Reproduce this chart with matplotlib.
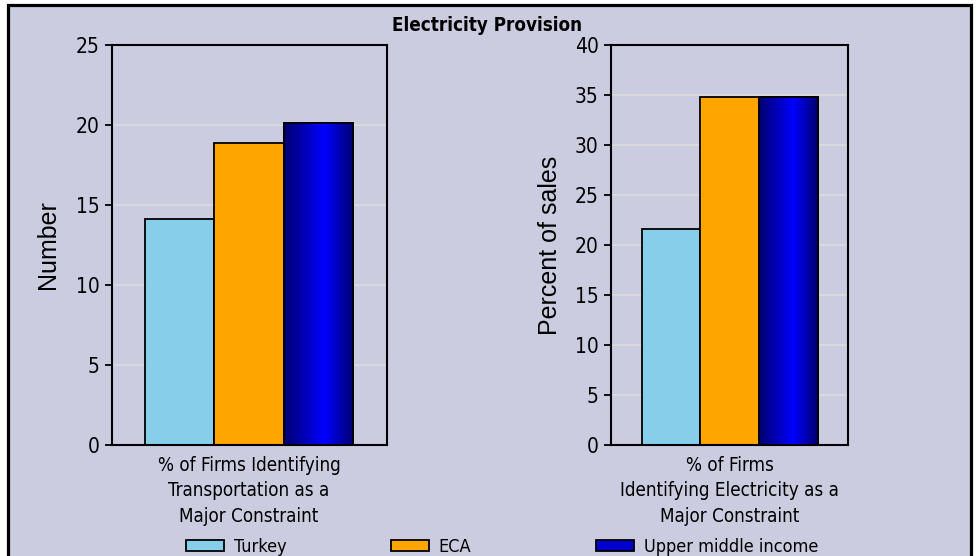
import numpy as np
import matplotlib
matplotlib.use('Agg')
from matplotlib import pyplot as plt
from matplotlib.patches import Rectangle
from matplotlib.colors import LinearSegmentedColormap

# data
series = ['Turkey', 'ECA', 'Upper middle income']
colors = ['#87CEEB', '#FFA500', '#0000CC']
transport_vals = [14.1, 18.9, 20.15]
electricity_vals = [21.6, 34.8, 34.8]
left_cat = '% of Firms Identifying\nTransportation as a\nMajor Constraint'
right_cat = '% of Firms\nIdentifying Electricity as a\nMajor Constraint'
left_yticks = [0, 5, 10, 15, 20, 25]
right_yticks = [0, 5, 10, 15, 20, 25, 30, 35, 40]

BG = '#CBCCE0'
REGULAR = ['Liberation Sans', 'DejaVu Sans']
NARROW = dict(family='DejaVu Sans', stretch='condensed')  # picks DejaVu Sans Condensed
W, H = 979.0, 556.0

blue_grad = LinearSegmentedColormap.from_list('bg', [(0, '#00006E'), (0.58, '#0000FF'), (1, '#00006E')])

fig = plt.figure(figsize=(9.79, 5.56), dpi=100, facecolor='white')
# the grey frame with the thick black border
fig.patches.append(Rectangle((8.5/W, -0.1), (971.5-8.5)/W, 1.1 - 4.5/H,
                             transform=fig.transFigure, facecolor=BG,
                             edgecolor='black', lw=2.3, zorder=-1))


def panel(rect, vals, yticks, ylabel, cat, xlim, label_x):
    ax = fig.add_axes(rect)
    ax.set_facecolor(BG)
    ax.set_axisbelow(True)
    ax.yaxis.grid(True, color='#DCDCDC', lw=1.3)
    bars = []
    for i, (v, c) in enumerate(zip(vals, colors)):
        b = ax.bar(i - 1, v, width=1.0, color=c, edgecolor='black', lw=1.3, zorder=2)
        bars.append(b)
        if i == 2:
            # shaded blue bar: gradient clipped to the bar, outline on top
            r = b[0]
            grad = np.linspace(0, 1, 256).reshape(1, -1)
            ax.imshow(grad, cmap=blue_grad, aspect='auto', zorder=2.5,
                      extent=[r.get_x(), r.get_x() + r.get_width(), 0, r.get_height()])
            ax.bar(i - 1, v, width=1.0, color='none', edgecolor='black', lw=1.3, zorder=3)
    ax.set_xlim(*xlim)
    ax.set_ylim(yticks[0], yticks[-1])
    ax.set_yticks(yticks)
    ax.set_yticklabels([str(t) for t in yticks], fontsize=15, **NARROW)
    ax.set_xticks([0])
    ax.set_xticklabels([cat], fontsize=13.5, linespacing=1.42, **NARROW)
    ax.tick_params(axis='y', direction='out', length=5, width=1.3, pad=4)
    ax.tick_params(axis='x', length=0, pad=8)
    for s in ax.spines.values():
        s.set_linewidth(1.5)
        s.set_color('black')
    ax.set_ylabel(ylabel, family=REGULAR, fontsize=18)
    ax.yaxis.set_label_coords(label_x, 0.5)
    return bars


bars = panel([112/W, 1 - 445/H, 275/W, 400/H], transport_vals, left_yticks,
             'Number', left_cat, (-1.976, 1.99), (60 - 112) / 275.0)
panel([611/W, 1 - 445/H, 237/W, 400/H], electricity_vals, right_yticks,
      'Percent of sales', right_cat, (-2.02, 2.01), (562 - 611) / 237.0)

fig.text(487.5/W, 1 - 31/H, 'Electricity Provision', fontsize=13.5,
         fontweight='bold', ha='center', va='baseline', **NARROW)

# legend: one entry per column, at the positions of the reference
for b, name, x in zip(bars, series, [186, 391, 596]):
    fig.legend(handles=[b], labels=[name], loc='upper left',
               bbox_to_anchor=(x/W, 1 - 538/H), frameon=False,
               borderpad=0, borderaxespad=0, handlelength=2.1,
               handleheight=0.6, handletextpad=0.55,
               prop={'size': 13, **NARROW})

fig.savefig('out.png', dpi=100, facecolor='white')
